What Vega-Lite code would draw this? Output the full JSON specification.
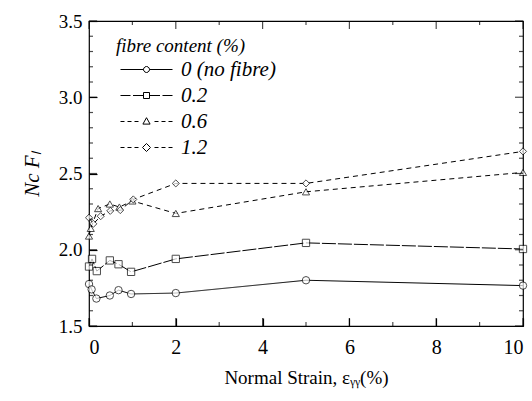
{
  "$schema": "https://vega.github.io/schema/vega-lite/v6.json",
  "width": 434,
  "height": 305,
  "autosize": "none",
  "padding": {"left": 89, "top": 21, "right": 9, "bottom": 75},
  "background": "white",
  "config": {
    "view": {"stroke": "black", "strokeWidth": 1.2},
    "axis": {"grid": false}
  },
  "datasets": {
    "main": [
      {"strain": 0, "nf": 1.775, "series": "0 (no fibre)"},
      {"strain": 0.06, "nf": 1.74, "series": "0 (no fibre)"},
      {"strain": 0.17, "nf": 1.68, "series": "0 (no fibre)"},
      {"strain": 0.48, "nf": 1.70, "series": "0 (no fibre)"},
      {"strain": 0.68, "nf": 1.735, "series": "0 (no fibre)"},
      {"strain": 0.97, "nf": 1.71, "series": "0 (no fibre)"},
      {"strain": 2, "nf": 1.716, "series": "0 (no fibre)"},
      {"strain": 5, "nf": 1.80, "series": "0 (no fibre)"},
      {"strain": 10, "nf": 1.765, "series": "0 (no fibre)"},
      {"strain": 0, "nf": 1.89, "series": "0.2"},
      {"strain": 0.07, "nf": 1.94, "series": "0.2"},
      {"strain": 0.18, "nf": 1.86, "series": "0.2"},
      {"strain": 0.48, "nf": 1.93, "series": "0.2"},
      {"strain": 0.68, "nf": 1.905, "series": "0.2"},
      {"strain": 0.97, "nf": 1.855, "series": "0.2"},
      {"strain": 2, "nf": 1.94, "series": "0.2"},
      {"strain": 5, "nf": 2.045, "series": "0.2"},
      {"strain": 10, "nf": 2.005, "series": "0.2"},
      {"strain": 0, "nf": 2.09, "series": "0.6"},
      {"strain": 0.04, "nf": 2.14, "series": "0.6"},
      {"strain": 0.21, "nf": 2.27, "series": "0.6"},
      {"strain": 0.48, "nf": 2.30, "series": "0.6"},
      {"strain": 0.7, "nf": 2.28, "series": "0.6"},
      {"strain": 1.0, "nf": 2.32, "series": "0.6"},
      {"strain": 2, "nf": 2.238, "series": "0.6"},
      {"strain": 5, "nf": 2.38, "series": "0.6"},
      {"strain": 10, "nf": 2.507, "series": "0.6"},
      {"strain": 0, "nf": 2.21, "series": "1.2"},
      {"strain": 0.1, "nf": 2.17, "series": "1.2"},
      {"strain": 0.27, "nf": 2.22, "series": "1.2"},
      {"strain": 0.49, "nf": 2.255, "series": "1.2"},
      {"strain": 0.72, "nf": 2.26, "series": "1.2"},
      {"strain": 1.02, "nf": 2.33, "series": "1.2"},
      {"strain": 2, "nf": 2.435, "series": "1.2"},
      {"strain": 5, "nf": 2.435, "series": "1.2"},
      {"strain": 10, "nf": 2.645, "series": "1.2"}
    ],
    "xmajor": [{"v": 0}, {"v": 2}, {"v": 4}, {"v": 6}, {"v": 8}, {"v": 10}],
    "xminor": [{"v": 1}, {"v": 3}, {"v": 5}, {"v": 7}, {"v": 9}],
    "ymajor": [{"v": 1.5}, {"v": 2.0}, {"v": 2.5}, {"v": 3.0}, {"v": 3.5}],
    "yminor": [{"v": 1.6}, {"v": 1.7}, {"v": 1.8}, {"v": 1.9}, {"v": 2.1}, {"v": 2.2}, {"v": 2.3}, {"v": 2.4}, {"v": 2.6}, {"v": 2.7}, {"v": 2.8}, {"v": 2.9}, {"v": 3.1}, {"v": 3.2}, {"v": 3.3}, {"v": 3.4}]
  },
  "data": {"name": "main"},
  "layer": [
    {
      "mark": {"type": "line", "color": "black", "strokeWidth": 1},
      "encoding": {
        "x": {"field": "strain", "type": "quantitative", "scale": {"domain": [0, 10], "nice": false, "zero": false}, "axis": {"orient": "bottom", "values": [0, 2, 4, 6, 8, 10], "domain": false, "tickSize": -8, "tickColor": "black", "tickWidth": 1.2, "labelPadding": 19, "labelFont": "Liberation Serif", "labelColor": "black", "labelFontSize": 20, "title": "Normal Strain,  εᵧᵧ(%)", "titleFont": "Liberation Serif", "titleFontWeight": "normal", "titleColor": "black", "titleFontSize": 19, "titlePadding": 11}},
        "y": {"field": "nf", "type": "quantitative", "scale": {"domain": [1.5, 3.5], "nice": false, "zero": false}, "axis": {"orient": "left", "values": [1.5, 2.0, 2.5, 3.0, 3.5], "format": ".1f", "domain": false, "tickSize": -8, "tickColor": "black", "tickWidth": 1.2, "labelPadding": 15, "labelFont": "Liberation Serif", "labelColor": "black", "labelFontSize": 19, "title": "Nc Fₗ", "titleFont": "Liberation Serif", "titleFontWeight": "normal", "titleColor": "black", "titleFontSize": 21, "titleFontStyle": "italic", "titlePadding": 16}},
        "strokeDash": {"field": "series", "type": "nominal", "scale": {"domain": ["0 (no fibre)", "0.2", "0.6", "1.2"], "range": [[1, 0], [14, 2], [5, 4], [5, 4]]}, "legend": null}
      }
    },
    {
      "mark": {"type": "point", "filled": true, "fill": "white", "stroke": "black", "strokeWidth": 1},
      "encoding": {
        "x": {"field": "strain", "type": "quantitative", "axis": null},
        "y": {"field": "nf", "type": "quantitative", "axis": null},
        "shape": {"field": "series", "type": "nominal", "scale": {"domain": ["0 (no fibre)", "0.2", "0.6", "1.2"], "range": ["circle", "square", "triangle-up", "diamond"]}, "legend": null},
        "size": {"field": "series", "type": "nominal", "scale": {"domain": ["0 (no fibre)", "0.2", "0.6", "1.2"], "range": [55, 50, 60, 85]}, "legend": null}
      }
    },
    {
      "mark": {"type": "point", "filled": false, "color": "black", "opacity": 0, "size": 400},
      "encoding": {
        "x": {"field": "strain", "type": "quantitative", "axis": null},
        "y": {"field": "nf", "type": "quantitative", "axis": null},
        "shape": {
          "field": "series", "type": "nominal",
          "scale": {"domain": ["0 (no fibre)", "0.2", "0.6", "1.2"], "range": [
            "M-2.6,0L-0.3,0M0.3,0L2.6,0M0.3,0L0.26,0.15L0.15,0.26L0,0.3L-0.15,0.26L-0.26,0.15L-0.3,0L-0.26,-0.15L-0.15,-0.26L0,-0.3L0.15,-0.26L0.26,-0.15Z",
            "M-2.6,0L-1.6,0M-1.35,0L-0.3,0M0.3,0L1.35,0M1.6,0L2.6,0M-0.3,-0.3L0.3,-0.3L0.3,0.3L-0.3,0.3Z",
            "M-2.6,0L-2.2,0M-1.9,0L-1.5,0M-1.2,0L-0.8,0M0.8,0L1.2,0M1.5,0L1.9,0M2.2,0L2.6,0M0,-0.38L0.36,0.26L-0.36,0.26Z",
            "M-2.6,0L-2.2,0M-1.9,0L-1.5,0M-1.2,0L-0.8,0M0.8,0L1.2,0M1.5,0L1.9,0M2.2,0L2.6,0M0,-0.4L0.4,0L0,0.4L-0.4,0Z"
          ]},
          "legend": {
            "orient": "none", "legendX": 27, "legendY": 16, "padding": 0,
            "title": "fibre content (%)", "titleFont": "Liberation Serif", "titleFontSize": 19, "titleFontStyle": "italic", "titleFontWeight": "normal", "titleColor": "black", "titlePadding": 3,
            "labelFont": "Liberation Serif", "labelFontSize": 21, "labelFontStyle": "italic", "labelColor": "black", "labelOffset": 24,
            "symbolSize": 400, "symbolOffset": 20, "symbolOpacity": 1, "symbolStrokeColor": "black", "symbolFillColor": "white", "symbolStrokeWidth": 1, "rowPadding": 4,
            "encode": {"symbols": {"update": {"opacity": {"value": 1}}}}
          }
        }
      }
    },
    {
      "data": {"name": "xmajor"},
      "mark": {"type": "tick", "orient": "vertical", "color": "black", "size": 8, "thickness": 1.2, "yOffset": -4},
      "encoding": {"x": {"field": "v", "type": "quantitative", "axis": null}, "y": {"datum": 1.5, "type": "quantitative", "axis": null}}
    },
    {
      "data": {"name": "xmajor"},
      "mark": {"type": "tick", "orient": "vertical", "color": "black", "size": 8, "thickness": 1.2, "yOffset": 4},
      "encoding": {"x": {"field": "v", "type": "quantitative", "axis": null}, "y": {"datum": 3.5, "type": "quantitative", "axis": null}}
    },
    {
      "data": {"name": "xminor"},
      "mark": {"type": "tick", "orient": "vertical", "color": "black", "size": 4, "thickness": 1.2, "yOffset": -2},
      "encoding": {"x": {"field": "v", "type": "quantitative", "axis": null}, "y": {"datum": 1.5, "type": "quantitative", "axis": null}}
    },
    {
      "data": {"name": "xminor"},
      "mark": {"type": "tick", "orient": "vertical", "color": "black", "size": 4, "thickness": 1.2, "yOffset": 2},
      "encoding": {"x": {"field": "v", "type": "quantitative", "axis": null}, "y": {"datum": 3.5, "type": "quantitative", "axis": null}}
    },
    {
      "data": {"name": "ymajor"},
      "mark": {"type": "tick", "orient": "horizontal", "color": "black", "size": 8, "thickness": 1.2, "xOffset": 4},
      "encoding": {"y": {"field": "v", "type": "quantitative", "axis": null}, "x": {"datum": 0, "type": "quantitative", "axis": null}}
    },
    {
      "data": {"name": "ymajor"},
      "mark": {"type": "tick", "orient": "horizontal", "color": "black", "size": 8, "thickness": 1.2, "xOffset": -4},
      "encoding": {"y": {"field": "v", "type": "quantitative", "axis": null}, "x": {"datum": 10, "type": "quantitative", "axis": null}}
    },
    {
      "data": {"name": "yminor"},
      "mark": {"type": "tick", "orient": "horizontal", "color": "black", "size": 4, "thickness": 1.2, "xOffset": 2},
      "encoding": {"y": {"field": "v", "type": "quantitative", "axis": null}, "x": {"datum": 0, "type": "quantitative", "axis": null}}
    },
    {
      "data": {"name": "yminor"},
      "mark": {"type": "tick", "orient": "horizontal", "color": "black", "size": 4, "thickness": 1.2, "xOffset": -2},
      "encoding": {"y": {"field": "v", "type": "quantitative", "axis": null}, "x": {"datum": 10, "type": "quantitative", "axis": null}}
    }
  ],
  "resolve": {"axis": {"x": "independent", "y": "independent"}, "scale": {"shape": "independent", "size": "independent"}, "legend": {"shape": "independent"}}
}
